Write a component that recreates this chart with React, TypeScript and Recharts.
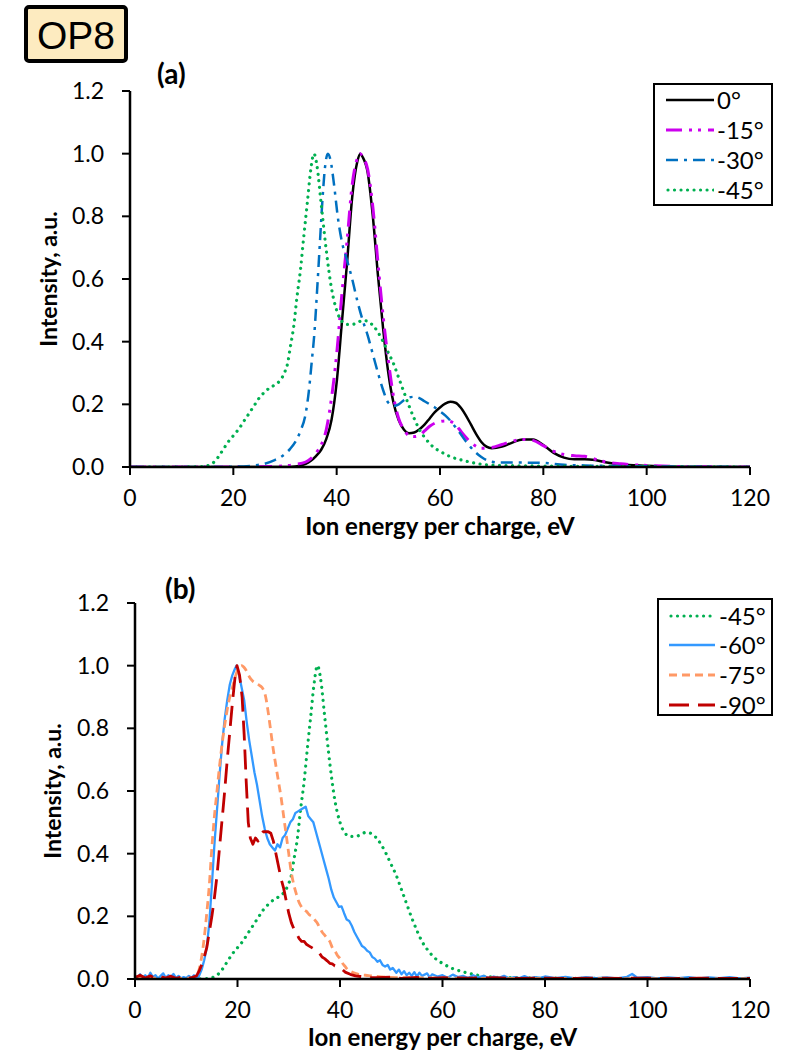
import React from 'react';
import { LineChart, Line, XAxis, YAxis, Legend } from 'recharts';

const FONT = 'Lato, "Liberation Sans", sans-serif';

// ---------- Panel (a) ----------
const E_0 = [0, 10, 20, 28, 30, 32, 34, 35, 36, 37, 38, 39, 40, 41, 42, 43, 44, 44.6, 45, 46, 47, 48, 49, 50, 51, 52, 53, 54, 55, 56, 57, 58, 59, 60, 61, 62, 63, 64, 65, 66, 67, 68, 69, 70, 72, 74, 76, 78, 80, 82, 84, 86, 88, 90, 92, 95, 100, 105, 120];
const I_0 = [0, 0, 0, 0, 0, 0.002, 0.01, 0.02, 0.035, 0.055, 0.09, 0.15, 0.27, 0.46, 0.65, 0.86, 0.975, 1.0, 0.99, 0.94, 0.8, 0.61, 0.44, 0.3, 0.205, 0.15, 0.12, 0.108, 0.11, 0.12, 0.135, 0.155, 0.175, 0.19, 0.202, 0.208, 0.205, 0.19, 0.165, 0.135, 0.105, 0.08, 0.065, 0.06, 0.065, 0.078, 0.088, 0.088, 0.07, 0.045, 0.03, 0.025, 0.025, 0.022, 0.015, 0.008, 0.004, 0.001, 0];

const E_15 = [0, 10, 20, 28, 30, 32, 34, 35, 36, 37, 38, 39, 40, 41, 42, 43, 44, 44.6, 45, 46, 47, 48, 49, 50, 51, 52, 53, 54, 55, 56, 57, 58, 59, 60, 61, 62, 63, 64, 65, 66, 67, 68, 70, 72, 74, 76, 78, 80, 82, 84, 86, 88, 90, 92, 95, 100, 105, 110, 120];
const I_15 = [0, 0, 0, 0.002, 0.004, 0.008, 0.016, 0.027, 0.045, 0.07, 0.12, 0.22, 0.36, 0.55, 0.72, 0.9, 0.985, 1.0, 0.99, 0.95, 0.83, 0.65, 0.48, 0.34, 0.225, 0.155, 0.12, 0.1, 0.097, 0.1, 0.115, 0.13, 0.14, 0.145, 0.147, 0.145, 0.135, 0.115, 0.095, 0.078, 0.066, 0.06, 0.062, 0.072, 0.082, 0.088, 0.085, 0.068, 0.05, 0.04, 0.036, 0.034, 0.025, 0.016, 0.01, 0.005, 0.002, 0.001, 0];

const E_30 = [0, 10, 18, 20, 22, 24, 26, 28, 29, 30, 31, 32, 33, 34, 34.6, 35.2, 35.7, 36.2, 36.7, 37.2, 37.7, 38.3, 38.8, 39.5, 40.2, 41, 42, 43, 44, 45, 46, 47, 48, 49, 50, 51, 52, 53, 54, 55, 56, 57, 58, 59, 60, 61, 62, 63, 64, 65, 66, 67, 68, 69, 70, 72, 76, 80, 84, 88, 95, 100, 110, 120];
const I_30 = [0, 0, 0, 0.001, 0.002, 0.005, 0.01, 0.022, 0.03, 0.042, 0.058, 0.08, 0.115, 0.17, 0.24, 0.34, 0.43, 0.56, 0.7, 0.84, 0.95, 1.0, 0.98, 0.9, 0.8, 0.72, 0.66, 0.6, 0.53, 0.47, 0.42, 0.36, 0.3, 0.245, 0.205, 0.195, 0.2, 0.213, 0.222, 0.224, 0.22, 0.21, 0.2, 0.19, 0.178, 0.165, 0.148, 0.127, 0.105, 0.082, 0.062, 0.045, 0.032, 0.022, 0.017, 0.014, 0.014, 0.013, 0.007, 0.005, 0.003, 0.002, 0.001, 0];

const E_45 = [0, 10, 14, 15, 16, 17, 18, 19, 20, 21, 22, 23, 24, 25, 26, 27, 28, 29, 30, 30.5, 31, 31.7, 32.3, 33, 33.6, 34.3, 35, 35.6, 36.2, 37, 38, 39, 40, 41, 42, 43, 44, 45, 46, 47, 48, 49, 50, 51, 52, 53, 54, 55, 56, 57, 58, 59, 60, 62, 64, 66, 68, 70, 75, 80, 90, 100, 120];
const I_45 = [0, 0, 0.001, 0.004, 0.012, 0.03, 0.055, 0.08, 0.1, 0.12, 0.145, 0.17, 0.195, 0.22, 0.238, 0.252, 0.262, 0.275, 0.305, 0.33, 0.38, 0.45, 0.54, 0.63, 0.73, 0.84, 0.95, 1.0, 0.96, 0.84, 0.69, 0.57, 0.5, 0.465, 0.455, 0.455, 0.46, 0.468, 0.465, 0.452, 0.43, 0.4, 0.365, 0.33, 0.285, 0.24, 0.195, 0.155, 0.12, 0.095, 0.075, 0.06, 0.05, 0.033, 0.023, 0.015, 0.009, 0.006, 0.004, 0.003, 0.002, 0.001, 0];

// ---------- Panel (b) ----------
const E_60 = [0, 0.5, 1, 1.5, 2, 2.5, 3, 3.5, 4, 4.5, 5, 5.5, 6, 6.5, 7, 7.5, 8, 8.5, 9, 9.5, 10, 10.5, 11, 11.5, 12, 12.5, 13, 13.5, 14, 14.5, 15, 15.5, 16, 16.5, 17, 17.5, 18, 18.5, 19, 19.5, 19.8, 20.3, 20.8, 21.3, 21.8, 22.3, 22.8, 23.3, 23.8, 24.3, 24.8, 25.3, 25.8, 26.3, 26.8, 27.3, 27.8, 28.3, 28.8, 29.3, 29.8, 30.3, 30.8, 31.3, 31.8, 32.3, 32.8, 33.3, 33.8, 34.3, 34.8, 35.3, 35.8, 36.3, 36.8, 37.3, 37.8, 38.3, 38.8, 39.3, 39.8, 40.3, 40.8, 41.3, 41.8, 42.3, 42.8, 43.3, 43.8, 44.3, 44.8, 45.3, 45.8, 46.3, 46.8, 47.3, 47.8, 48.3, 48.8, 49.3, 49.8, 50.3, 51, 51.5, 52, 52.5, 53, 53.5, 54, 54.5, 55, 55.5, 56, 57, 57.5, 58, 59, 60, 61, 62, 63, 64, 65, 66, 67, 68, 69, 70, 71, 72, 73, 74, 75, 76, 77, 78, 79, 80, 82, 84, 86, 88, 90, 92, 94, 96, 97, 98, 100, 102, 104, 106, 108, 110, 112, 114, 116, 118, 120];
const I_60 = [0.01, 0.005, 0.015, 0.003, 0.012, 0.004, 0.02, 0.006, 0.012, 0.002, 0.01, 0.018, 0.004, 0.012, 0.007, 0.016, 0.003, 0.01, 0.002, 0.006, 0.003, 0.01, 0.004, 0.012, 0.002, 0.01, 0.03, 0.06, 0.1, 0.18, 0.3, 0.43, 0.54, 0.65, 0.75, 0.83, 0.89, 0.94, 0.97, 0.99, 1.0, 0.97, 0.93, 0.89, 0.82, 0.76, 0.71, 0.66, 0.62, 0.57, 0.52, 0.48, 0.45, 0.43, 0.42, 0.41, 0.43, 0.42, 0.45, 0.46, 0.48, 0.5, 0.51, 0.53, 0.535, 0.54, 0.545, 0.55, 0.52, 0.51, 0.5, 0.47, 0.44, 0.41, 0.38, 0.35, 0.32, 0.285, 0.26, 0.245, 0.23, 0.232, 0.21, 0.19, 0.185, 0.17, 0.15, 0.135, 0.12, 0.105, 0.1, 0.09, 0.085, 0.07, 0.065, 0.055, 0.06, 0.045, 0.04, 0.045, 0.03, 0.035, 0.02, 0.03, 0.015, 0.025, 0.012, 0.02, 0.01, 0.022, 0.008, 0.02, 0.01, 0.018, 0.005, 0.015, 0.008, 0.012, 0.004, 0.014, 0.006, 0.01, 0.003, 0.012, 0.005, 0.01, 0.003, 0.008, 0.004, 0.01, 0.002, 0.006, 0.003, 0.009, 0.002, 0.006, 0.004, 0.008, 0.003, 0.007, 0.002, 0.006, 0.003, 0.005, 0.002, 0.007, 0.016, 0.004, 0.006, 0.002, 0.005, 0.003, 0.006, 0.002, 0.005, 0.003, 0.006, 0.002, 0.004];

const E_75 = [0, 4, 8, 11, 12, 12.5, 13, 13.5, 14, 14.5, 15, 15.5, 16, 16.5, 17, 17.5, 18, 18.5, 19, 19.5, 20, 20.8, 21.5, 22.3, 23, 24, 24.8, 25.5, 26, 26.5, 27, 27.5, 28, 28.5, 29, 29.5, 30, 30.5, 31, 31.5, 32, 32.5, 33, 33.5, 34, 34.5, 35, 35.5, 36, 36.5, 37, 37.5, 38, 38.5, 39, 39.5, 40, 40.5, 41, 41.5, 42, 43, 44, 45, 46, 48, 50, 55, 60, 70, 80, 90, 100, 120];
const I_75 = [0.003, 0.003, 0.002, 0.003, 0.01, 0.03, 0.07, 0.13, 0.21, 0.3, 0.42, 0.52, 0.6, 0.68, 0.75, 0.81, 0.86, 0.9, 0.93, 0.96, 0.985, 1.0, 0.99, 0.965, 0.95, 0.94, 0.93, 0.9, 0.85, 0.79, 0.73, 0.68, 0.63, 0.58, 0.52, 0.46, 0.4, 0.34, 0.3, 0.27, 0.245, 0.23, 0.22, 0.215, 0.205, 0.2, 0.19, 0.18, 0.165, 0.15, 0.14, 0.13, 0.12, 0.1, 0.09, 0.075, 0.065, 0.05, 0.04, 0.03, 0.025, 0.018, 0.013, 0.012, 0.01, 0.007, 0.005, 0.004, 0.003, 0.002, 0.002, 0.002, 0.001, 0.001];

const E_90 = [0, 1, 2, 3, 4, 5, 6, 7, 8, 9, 10, 11, 12, 12.5, 13, 13.5, 14, 14.5, 15, 15.5, 16, 16.5, 17, 17.5, 18, 18.5, 19, 19.5, 19.9, 20.4, 20.9, 21.3, 21.7, 22.1, 22.5, 23, 23.5, 24, 24.5, 25, 25.5, 26, 26.5, 27, 27.5, 28, 28.5, 29, 29.5, 30, 30.5, 31, 31.5, 32, 32.5, 33, 33.5, 34, 34.5, 35, 35.5, 36, 36.5, 37, 37.5, 38, 38.5, 39, 39.5, 40, 40.5, 41, 42, 43, 44, 45, 47, 50, 52, 55, 58, 60, 65, 70, 75, 80, 85, 90, 95, 100, 105, 110, 115, 120];
const I_90 = [0.005, 0.012, 0.003, 0.01, 0.002, 0.008, 0.003, 0.009, 0.002, 0.006, 0.002, 0.004, 0.01, 0.025, 0.045, 0.07, 0.1, 0.15, 0.2, 0.26, 0.33, 0.42, 0.51, 0.6, 0.7, 0.79, 0.88, 0.96, 1.0, 0.97, 0.9, 0.78, 0.63, 0.5, 0.45, 0.43, 0.45, 0.44, 0.46, 0.47, 0.47, 0.47, 0.465, 0.44, 0.4, 0.36, 0.32, 0.29, 0.25, 0.21, 0.18, 0.16, 0.145, 0.13, 0.12, 0.12, 0.11, 0.105, 0.1, 0.095, 0.09, 0.082, 0.07, 0.065, 0.058, 0.05, 0.048, 0.042, 0.04, 0.035, 0.03, 0.022, 0.015, 0.01, 0.008, 0.005, 0.004, 0.006, 0.002, 0.005, 0.002, 0.004, 0.003, 0.004, 0.002, 0.003, 0.002, 0.003, 0.002, 0.003, 0.001, 0.003, 0.002, 0.002];

const X_TICKS = [0, 20, 40, 60, 80, 100, 120];
const Y_TICKS = [0, 0.2, 0.4, 0.6, 0.8, 1.0, 1.2];

const zip = (xs: number[], ys: number[]) => xs.map((x, i) => ({ x, y: ys[i] }));

type Series = { name: string; data: { x: number; y: number }[]; color: string; dash?: string; width: number; cap?: 'round' | 'butt'; curve: 'monotone' | 'linear' };

const SERIES_A: Series[] = [
  { name: '0°', data: zip(E_0, I_0), color: '#000000', width: 2.5, curve: 'monotone' },
  { name: '-15°', data: zip(E_15, I_15), color: '#CC00EE', dash: '16 7 3 6 3 7', width: 3, curve: 'monotone' },
  { name: '-30°', data: zip(E_30, I_30), color: '#0070C0', dash: '12 6 3 6', width: 2.5, curve: 'monotone' },
  { name: '-45°', data: zip(E_45, I_45), color: '#00B050', dash: '0.01 6.5', width: 3.2, cap: 'round', curve: 'monotone' },
];

const SERIES_B: Series[] = [
  { name: '-45°', data: zip(E_45, I_45), color: '#00B050', dash: '0.01 6.5', width: 3.2, cap: 'round', curve: 'monotone' },
  { name: '-60°', data: zip(E_60, I_60), color: '#3399FF', width: 2.3, curve: 'linear' },
  { name: '-75°', data: zip(E_75, I_75), color: '#FF9966', dash: '8 5', width: 2.8, curve: 'monotone' },
  { name: '-90°', data: zip(E_90, I_90), color: '#C00000', dash: '20 9', width: 2.8, curve: 'linear' },
];

const TICK_FS = 23;

const XTick = (props: any) => {
  const { x, y, payload } = props;
  return (
    <text x={x} y={y + 31} textAnchor="middle" fontFamily={FONT} fontSize={TICK_FS} fill="#000">
      {payload.value}
    </text>
  );
};

const YTick = (props: any) => {
  const { x, y, payload } = props;
  return (
    <text x={x} y={y + 8} textAnchor="end" fontFamily={FONT} fontSize={TICK_FS} fill="#000">
      {Number(payload.value).toFixed(1)}
    </text>
  );
};

const LegendBox = ({ items, w, h, rows, sx0, sx1, tx }: { items: Series[]; w: number; h: number; rows: number[]; sx0: number; sx1: number; tx: number }) => (
  <div style={{ position: 'relative', width: w, height: h, border: '2.5px solid #000', boxSizing: 'border-box', background: '#fff', fontFamily: FONT, fontSize: 24, color: '#000' }}>
    {items.map((it, i) => (
      <React.Fragment key={it.name + i}>
        <svg style={{ position: 'absolute', left: sx0, top: rows[i] - 5 }} width={sx1 - sx0} height={10}>
          <line x1={it.cap === 'round' ? 2 : 0} y1={5} x2={sx1 - sx0} y2={5} stroke={it.color} strokeWidth={it.width} strokeDasharray={it.dash} strokeLinecap={it.cap || 'butt'} />
        </svg>
        <div style={{ position: 'absolute', left: tx, top: rows[i] - 15, lineHeight: '29px', whiteSpace: 'nowrap' }}>{it.name}</div>
      </React.Fragment>
    ))}
  </div>
);

const XTitle = (props: any) => {
  const { viewBox, dyb } = props;
  return (
    <text x={viewBox.x + viewBox.width / 2} y={viewBox.y + dyb} textAnchor="middle" fontFamily={FONT} fontWeight="bold" fontSize={24} fill="#000">
      Ion energy per charge, eV
    </text>
  );
};

const YTitle = (props: any) => {
  const { viewBox, bx } = props;
  const cy = viewBox.y + viewBox.height / 2;
  return (
    <text x={bx} y={cy} transform={`rotate(-90 ${bx} ${cy})`} textAnchor="middle" fontFamily={FONT} fontWeight="bold" fontSize={23} fill="#000">
      Intensity, a.u.
    </text>
  );
};

const Panel = ({ series, height, marginTop, yAxisWidth, xAxisHeight, legend, yTitleX, titleDy }: any) => (
  <LineChart width={792} height={height} margin={{ top: marginTop, right: 42, bottom: 0, left: 0 }}>
    <XAxis
      dataKey="x"
      type="number"
      domain={[0, 120]}
      ticks={X_TICKS}
      allowDataOverflow
      height={xAxisHeight}
      tick={<XTick />}
      tickSize={8}
      tickMargin={0}
      axisLine={{ stroke: '#000', strokeWidth: 2.5 }}
      tickLine={{ stroke: '#000', strokeWidth: 2 }}
      label={<XTitle dyb={titleDy} />}
    />
    <YAxis
      type="number"
      domain={[0, 1.2]}
      ticks={Y_TICKS}
      allowDataOverflow
      width={yAxisWidth}
      tick={<YTick />}
      tickSize={8}
      tickMargin={18}
      axisLine={{ stroke: '#000', strokeWidth: 2.5 }}
      tickLine={{ stroke: '#000', strokeWidth: 2 }}
      label={<YTitle bx={yTitleX} />}
    />
    {series.map((s: Series, i: number) => (
      <Line
        key={s.name + i}
        data={s.data}
        dataKey="y"
        name={s.name}
        type={s.curve}
        stroke={s.color}
        strokeWidth={s.width}
        strokeDasharray={s.dash}
        strokeLinecap={s.cap || 'butt'}
        strokeLinejoin="round"
        dot={false}
        activeDot={false}
        isAnimationActive={false}
      />
    ))}
    <Legend
      layout="vertical"
      align="center"
      verticalAlign="middle"
      wrapperStyle={{ left: legend.left, top: legend.top, width: legend.w, height: legend.h }}
      content={() => <LegendBox items={series} w={legend.w} h={legend.h} rows={legend.rows} sx0={legend.sx0} sx1={legend.sx1} tx={legend.tx} />}
    />
  </LineChart>
);

export default function App() {
  return (
    <div style={{ position: 'absolute', left: 0, top: 0, width: 792, height: 1051, background: '#fff', overflow: 'hidden' }}>
      <div style={{ position: 'absolute', left: 0, top: 0 }}>
        <Panel
          series={SERIES_A}
          height={545}
          marginTop={91}
          yAxisWidth={130}
          xAxisHeight={78}
          yTitleX={57}
          titleDy={68}
          legend={{ left: 653, top: 83, w: 120, h: 123, rows: [15, 45, 75, 105], sx0: 11, sx1: 59, tx: 62 }}
        />
      </div>
      <div style={{ position: 'absolute', left: 0, top: 545 }}>
        <Panel
          series={SERIES_B}
          height={506}
          marginTop={58}
          yAxisWidth={135}
          xAxisHeight={72}
          yTitleX={61}
          titleDy={67}
          legend={{ left: 657, top: 53, w: 116, h: 118, rows: [16, 45, 75, 105], sx0: 10, sx1: 56, tx: 60 }}
        />
      </div>
      <svg style={{ position: 'absolute', left: 0, top: 0 }} width={792} height={1051} pointerEvents="none">
        <rect x={26} y={7} width={100} height={54} rx={3} ry={3} fill="#FDEBC0" stroke="#000" strokeWidth={4} />
        <text x={76} y={49} textAnchor="middle" fontFamily='"Liberation Sans", Arial, sans-serif' fontSize={39} fill="#000">OP8</text>
        <text x={157} y={84} fontFamily={FONT} fontWeight="bold" fontSize={28} fill="#000">(a)</text>
        <text x={165} y={599} fontFamily={FONT} fontWeight="bold" fontSize={28} fill="#000">(b)</text>
      </svg>
    </div>
  );
}
